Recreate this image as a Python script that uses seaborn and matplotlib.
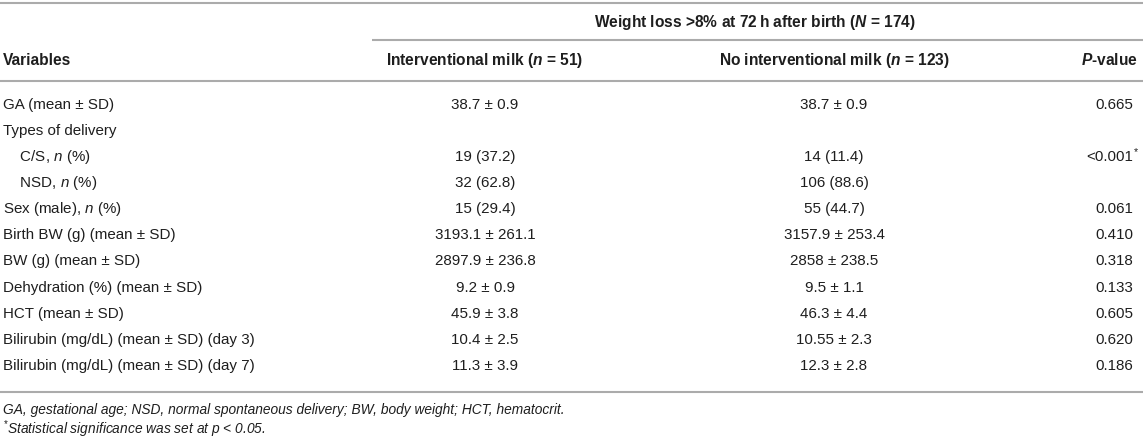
import matplotlib
matplotlib.use("Agg")
import matplotlib.pyplot as plt
import seaborn as sns

variables = ["GA (mean ± SD)", "Types of delivery", "    C/S, $n$ (%)", "    NSD, $n$ (%)",
             "Sex (male), $n$ (%)", "Birth BW (g) (mean ± SD)", "BW (g) (mean ± SD)",
             "Dehydration (%) (mean ± SD)", "HCT (mean ± SD)",
             "Bilirubin (mg/dL) (mean ± SD) (day 3)", "Bilirubin (mg/dL) (mean ± SD) (day 7)"]
interventional = ["38.7 ± 0.9", "", "19 (37.2)", "32 (62.8)", "15 (29.4)", "3193.1 ± 261.1",
                  "2897.9 ± 236.8", "9.2 ± 0.9", "45.9 ± 3.8", "10.4 ± 2.5", "11.3 ± 3.9"]
no_interventional = ["38.7 ± 0.9", "", "14 (11.4)", "106 (88.6)", "55 (44.7)", "3157.9 ± 253.4",
                     "2858 ± 238.5", "9.5 ± 1.1", "46.3 ± 4.4", "10.55 ± 2.3", "12.3 ± 2.8"]
p_values = ["0.665", "", "<0.001*", "", "0.061", "0.410", "0.318", "0.133", "0.605",
            "0.620", "0.186"]

group_title = "Weight loss >8% at 72\u2009h after birth ($\\mathbfit{N}$ = 174)"
col_titles = ["Variables", r"Interventional milk ($\mathbfit{n}$ = 51)",
              r"No interventional milk ($\mathbfit{n}$ = 123)", r"$\mathbfit{P}$-value"]
notes = ["GA, gestational age; NSD, normal spontaneous delivery; BW, body weight; HCT, hematocrit.",
         "$^{*}$Statistical significance was set at $p$ < 0.05."]

sns.set_theme(style="white")
plt.rcParams["font.family"] = ["Liberation Sans", "DejaVu Sans"]
plt.rcParams["mathtext.fontset"] = "custom"
plt.rcParams["mathtext.rm"] = "Liberation Sans"
plt.rcParams["mathtext.it"] = "Liberation Sans:italic"
plt.rcParams["mathtext.bf"] = "Liberation Sans:bold"
plt.rcParams["mathtext.bfit"] = "Liberation Sans:italic:bold"

fig = plt.figure(figsize=(11.43, 4.43), dpi=100)
ax = fig.add_axes([0, 0, 1, 1])
ax.set_xlim(0, 1143)
ax.set_ylim(443, 0)
ax.axis("off")

txt = "#1e1e1e"
line = "#ababab"
fs_head, fs_body, fs_note = 11.2, 10.9, 9.9

# rules
ax.hlines([3, 81, 392], 0, 1143, color=line, lw=1.5)
ax.hlines(39.5, 372, 1143, color=line, lw=1.5)

# column positions
x_var, x_g1, x_g2, x_p = 3, 485, 834, 1133

ax.text(755, 22, group_title, ha="center", va="center", fontsize=fs_head, weight="bold", color=txt)
ax.text(x_var, 60, col_titles[0], ha="left", va="center", fontsize=fs_head, weight="bold", color=txt)
ax.text(x_g1, 60, col_titles[1], ha="center", va="center", fontsize=fs_head, weight="bold", color=txt)
ax.text(x_g2, 60, col_titles[2], ha="center", va="center", fontsize=fs_head, weight="bold", color=txt)
ax.text(1138, 60, col_titles[3], ha="right", va="center", fontsize=fs_head, weight="bold", color=txt)

y0, dy = 104.5, 26.15
for i, (v, a, b, p) in enumerate(zip(variables, interventional, no_interventional, p_values)):
    y = y0 + i * dy
    ax.text(x_var, y, v, ha="left", va="center", fontsize=fs_body, color=txt)
    ax.text(x_g1, y, a, ha="center", va="center", fontsize=fs_body, color=txt)
    ax.text(x_g2, y, b, ha="center", va="center", fontsize=fs_body, color=txt)
    star = p.endswith("*")
    ax.text(x_p, y, p.rstrip("*"), ha="right", va="center", fontsize=fs_body, color=txt)
    if star:
        ax.text(x_p + 0.5, y - 5, "*", ha="left", va="center", fontsize=fs_body * 0.7, color=txt)

for j, n in enumerate(notes):
    ax.text(x_var, 410 + j * 19, n, ha="left", va="center", fontsize=fs_note, style="italic", color=txt)

fig.savefig("out.png", dpi=100)
